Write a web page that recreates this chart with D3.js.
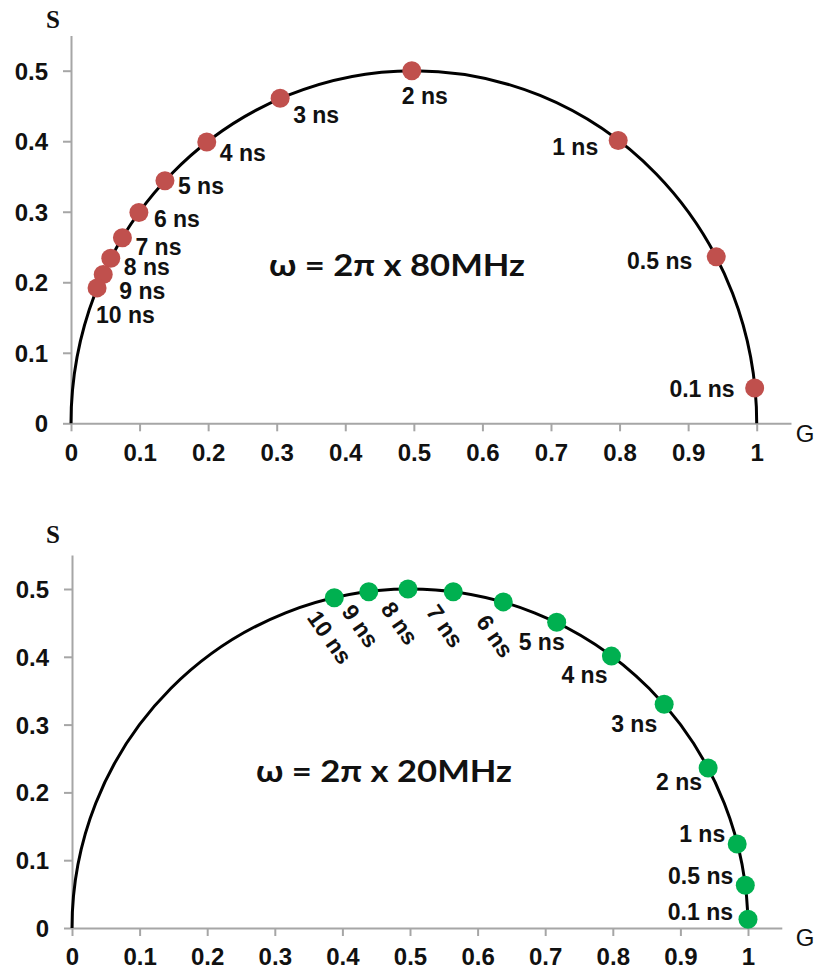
<!DOCTYPE html>
<html>
<head>
<meta charset="utf-8">
<script src="https://cdn.jsdelivr.net/npm/d3@7"></script>
<style>
  html, body { margin: 0; padding: 0; background: #fff; }
  svg { display: block; }
  text { font-family: "Liberation Sans", Arial, sans-serif; fill: #111; }
</style>
</head>
<body>
<svg id="chart" width="819" height="971"></svg>
<script>
// ---------- data ----------
const lifetimes = ["0.1 ns","0.5 ns","1 ns","2 ns","3 ns","4 ns","5 ns","6 ns","7 ns","8 ns","9 ns","10 ns"];
const g80 = [0.997, 0.941, 0.798, 0.497, 0.305, 0.198, 0.137, 0.099, 0.075, 0.058, 0.047, 0.038];
const s80 = [0.050, 0.236, 0.401, 0.500, 0.461, 0.399, 0.344, 0.299, 0.263, 0.234, 0.211, 0.192];
const g20 = [1.000, 0.996, 0.984, 0.941, 0.876, 0.798, 0.717, 0.638, 0.564, 0.497, 0.439, 0.388];
const s20 = [0.013, 0.063, 0.124, 0.236, 0.330, 0.401, 0.451, 0.481, 0.496, 0.500, 0.496, 0.487];
const xTickValues = [0, 0.1, 0.2, 0.3, 0.4, 0.5, 0.6, 0.7, 0.8, 0.9, 1];
const xTickLabels = ["0","0.1","0.2","0.3","0.4","0.5","0.6","0.7","0.8","0.9","1"];
const yTickValues = [0, 0.1, 0.2, 0.3, 0.4, 0.5];
const yTickLabels = ["0","0.1","0.2","0.3","0.4","0.5"];
const titles = ["ω = 2π x 80MHz", "ω = 2π x 20MHz"];

// ---------- layout (label offsets in px from each dot) ----------
// [dx, dy, anchor, rotation]
const labelLayout80 = [
  [-20, 1, "end", 0], [-24, 4, "end", 0], [-20, 6, "end", 0], [-10, 25, "start", 0],
  [13, 17, "start", 0], [13, 11, "start", 0], [13, 5, "start", 0], [15, 6, "start", 0],
  [13, 9, "start", 0], [13, 9, "start", 0], [16, 16, "start", 0], [-1, 27, "start", 0]
];
const labelLayout20 = [
  [-15, -7, "end", 0], [-12, -9, "end", 0], [-12, -10, "end", 0], [-6, 14, "end", 0],
  [-7, 20, "end", 0], [-4, 19, "end", 0], [8, 20, "end", 0], [-28, 20, "start", 55],
  [-28, 20, "start", 55], [-28, 20, "start", 55], [-28, 20, "start", 55], [-28, 20, "start", 55]
];

const panels = [
  { g: g80, s: s80, color: "#C0504D", title: titles[0], layout: labelLayout80,
    x0: 71, x1: 756.7, y0: 423.3, y05: 70.7, titleX: 397, titleY: 265, sY: 19 },
  { g: g20, s: s20, color: "#00B050", title: titles[1], layout: labelLayout20,
    x0: 72, x1: 748, y0: 928, y05: 589, titleX: 384, titleY: 771, sY: 534 }
];

const svg = d3.select("#chart");
const axisColor = "#a6a6a6";

panels.forEach(p => {
  const unitX = p.x1 - p.x0;
  const unitY = (p.y0 - p.y05) / 0.5;
  const x = d3.scaleLinear().domain([0, 1.05]).range([p.x0, p.x0 + 1.05 * unitX]);
  const y = d3.scaleLinear().domain([0, 0.55]).range([p.y0, p.y0 - 0.55 * unitY]);

  // x axis
  const xa = svg.append("g").attr("transform", `translate(0,${y(0)})`)
    .call(d3.axisBottom(x).tickValues(xTickValues).tickFormat((d, i) => xTickLabels[i])
      .tickSize(8).tickSizeOuter(0));
  xa.select(".domain").attr("stroke", axisColor).attr("stroke-width", 2);
  xa.selectAll(".tick line").attr("stroke", axisColor).attr("stroke-width", 2);
  xa.selectAll(".tick text").attr("y", 29).attr("dy", "0.35em")
    .style("font-family", "'Liberation Sans', Arial, sans-serif")
    .style("font-size", "24px").style("font-weight", "bold").attr("fill", "#111");

  // y axis
  const ya = svg.append("g").attr("transform", `translate(${x(0)},0)`)
    .call(d3.axisLeft(y).tickValues(yTickValues).tickFormat((d, i) => yTickLabels[i])
      .tickSize(8).tickSizeOuter(0));
  ya.select(".domain").attr("stroke", axisColor).attr("stroke-width", 2);
  ya.selectAll(".tick line").attr("stroke", axisColor).attr("stroke-width", 2);
  ya.selectAll(".tick text").attr("x", -23).attr("dy", "0.35em")
    .style("font-family", "'Liberation Sans', Arial, sans-serif")
    .style("font-size", "24px").style("font-weight", "bold").attr("fill", "#111");

  // axis names
  svg.append("text").attr("x", 53).attr("y", p.sY).attr("dy", "0.35em")
    .attr("text-anchor", "middle")
    .style("font-family", "'Liberation Serif', 'DejaVu Serif', serif")
    .style("font-size", "25px").style("font-weight", "bold").text("S");
  svg.append("text").attr("x", 805).attr("y", y(0) + 10).attr("dy", "0.35em")
    .attr("text-anchor", "middle").style("font-size", "24px").text("G");

  // universal semicircle
  const rx = x(1) - x(0.5), ry = y(0) - y(0.5);
  svg.append("path")
    .attr("d", `M${x(0)},${y(0)} A${rx},${ry} 0 0 1 ${x(1)},${y(0)}`)
    .attr("fill", "none").attr("stroke", "#000").attr("stroke-width", 3);

  // points
  svg.append("g").selectAll("circle").data(p.g).join("circle")
    .attr("cx", (d) => x(d)).attr("cy", (d, i) => y(p.s[i]))
    .attr("r", 9.5).attr("fill", p.color);

  // point labels
  svg.append("g").selectAll("text").data(lifetimes).join("text")
    .attr("transform", (d, i) => {
      const L = p.layout[i];
      return `translate(${x(p.g[i]) + L[0]},${y(p.s[i]) + L[1]}) rotate(${L[3]})`;
    })
    .attr("text-anchor", (d, i) => p.layout[i][2])
    .attr("dy", (d, i) => p.layout[i][3] ? "0" : "0.35em")
    .style("font-size", "23px").style("font-weight", "bold")
    .text(d => d);

  // title
  svg.append("text").attr("x", p.titleX).attr("y", p.titleY).attr("dy", "0.35em")
    .attr("text-anchor", "middle")
    .attr("textLength", 256).attr("lengthAdjust", "spacingAndGlyphs")
    .style("font-family", "Lato, 'Open Sans', sans-serif")
    .style("font-size", "31px").style("font-weight", "bold")
    .text(p.title);
});
</script>
</body>
</html>
